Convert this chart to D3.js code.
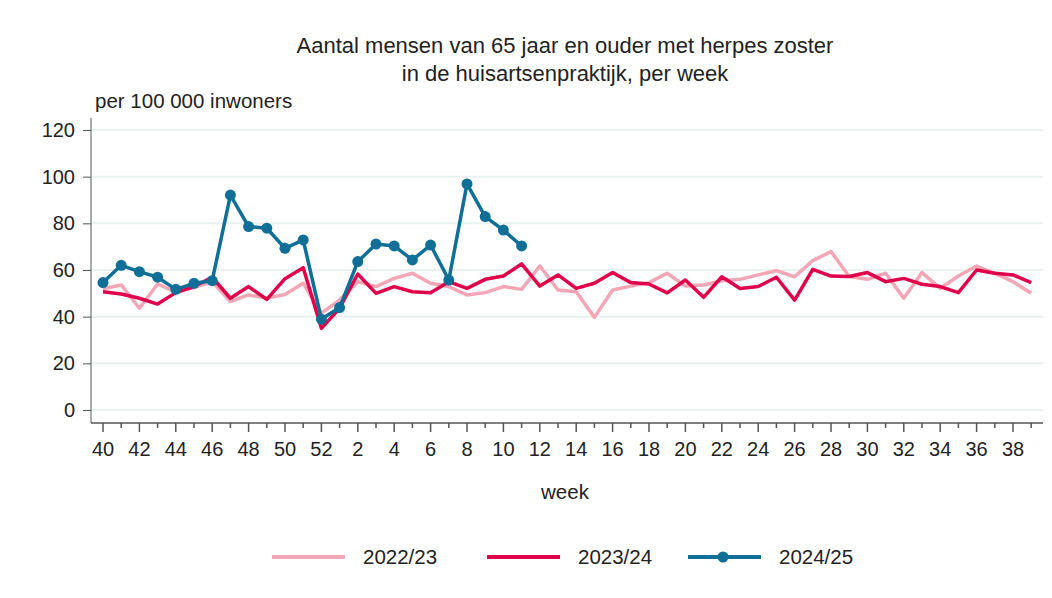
<!DOCTYPE html>
<html>
<head>
<meta charset="utf-8">
<script src="https://cdn.jsdelivr.net/npm/d3@7"></script>
<style>
  body { margin: 0; background: #fff; }
  svg { display: block; font-family: 'Liberation Sans', Arial, sans-serif; }
</style>
</head>
<body>
<svg id="chart"></svg>
<script>
// weeks of the season, week 40 to week 39
const weeks = [40, 41, 42, 43, 44, 45, 46, 47, 48, 49, 50, 51, 52,
  1, 2, 3, 4, 5, 6, 7, 8, 9, 10, 11, 12, 13, 14, 15, 16, 17, 18, 19, 20,
  21, 22, 23, 24, 25, 26, 27, 28, 29, 30, 31, 32, 33, 34, 35, 36, 37, 38, 39]

const season2223 = [52, 53.6, 43.6, 54, 50.5, 52.5, 55, 46.5, 49.3, 48, 49.5, 54.3, 41.5,
  47.1, 55, 52.9, 56.4, 58.6, 54.3, 52.9, 49.3, 50.3, 52.9, 51.7, 61.7, 51.4, 50.7, 39.7, 51.4, 53.1, 54.6, 58.6, 53.1,
  53.6, 55.4, 56, 57.9, 59.7, 57.1, 64, 67.9, 57.2, 56, 58.6, 47.9, 58.9, 52.1, 57.4, 61.7, 58.6, 55, 50]

const season2324 = [50.7, 49.7, 47.9, 45.4, 50.3, 52.9, 56.9, 47.9, 52.9, 47.4, 56.3, 61, 35,
  43.6, 58.3, 50, 52.9, 50.7, 50.3, 55, 52.1, 56, 57.4, 62.6, 53.1, 57.9, 52.1, 54.3, 58.9, 54.6, 54, 50.2, 55.7,
  48.3, 57.1, 52.1, 52.9, 56.9, 47.1, 60.3, 57.4, 57.2, 58.9, 55, 56.4, 53.9, 52.9, 50.3, 60, 58.6, 57.9, 54.6]

const season2425 = [54.6, 62, 59.3, 56.9, 51.7, 54.3, 55.4, 92.1, 78.6, 77.9, 69.3, 72.9, 38.9,
  43.9, 63.6, 71.1, 70.3, 64.3, 70.7, 55.7, 96.9, 82.9, 77.1, 70.3]

const yTicks = [0, 20, 40, 60, 80, 100, 120]
const seasonNames = ['2022/23', '2023/24', '2024/25']

const pink = '#f4a5b6'
const red = '#e1004a'
const blue = '#0f6f96'
const textColor = '#222'
const axisColor = '#555'

const width = 1052
const height = 598

const svg = d3.select('#chart')
  .attr('width', width)
  .attr('height', height)

const x = d3.scaleLinear()
  .domain([0, weeks.length - 1])
  .range([103, 1031.2])

const y = d3.scaleLinear()
  .domain([0, 120])
  .range([410, 130])

// title
svg.append('text')
  .attr('x', 565)
  .attr('y', 53)
  .attr('text-anchor', 'middle')
  .style('font-size', '22px')
  .style('fill', textColor)
  .text('Aantal mensen van 65 jaar en ouder met herpes zoster')
svg.append('text')
  .attr('x', 565)
  .attr('y', 81)
  .attr('text-anchor', 'middle')
  .style('font-size', '22px')
  .style('fill', textColor)
  .text('in de huisartsenpraktijk, per week')

svg.append('text')
  .attr('x', 95)
  .attr('y', 108)
  .style('font-size', '20.5px')
  .style('fill', textColor)
  .text('per 100 000 inwoners')

// horizontal gridlines
svg.append('g')
  .selectAll('line')
  .data(yTicks)
  .enter()
  .append('line')
  .attr('x1', 91)
  .attr('x2', 1043)
  .attr('y1', d => y(d))
  .attr('y2', d => y(d))
  .style('stroke', '#e9f1f1')
  .style('stroke-width', 2)

// y axis
svg.append('g')
  .attr('transform', 'translate(91,0)')
  .style('color', axisColor)
  .style('font-size', '20px')
  .call(d3.axisLeft(y).tickValues(yTicks).tickSize(8).tickSizeOuter(0).tickPadding(8))
  .call(g => g.select('.domain').attr('d', 'M0,118V423'))
  .selectAll('text')
  .style('fill', textColor)
  .style('font-family', "'Liberation Sans', Arial, sans-serif")

// x axis, minor ticks every week
const xAxisG = svg.append('g')
  .attr('transform', 'translate(0,423)')
  .style('color', axisColor)
xAxisG.append('line')
  .attr('x1', 91)
  .attr('x2', 1043)
  .style('stroke', axisColor)
  .style('stroke-width', 1.5)
xAxisG.selectAll('.tick')
  .data(weeks)
  .enter()
  .append('line')
  .attr('x1', (d, i) => x(i))
  .attr('x2', (d, i) => x(i))
  .attr('y1', 0)
  .attr('y2', d => d % 2 === 0 ? 9 : 5)
  .style('stroke', axisColor)
  .style('stroke-width', 1.5)
xAxisG.selectAll('.label')
  .data(weeks)
  .enter()
  .filter(d => d % 2 === 0)
  .append('text')
  .attr('x', d => x(weeks.indexOf(d)))
  .attr('y', 33)
  .attr('text-anchor', 'middle')
  .style('font-size', '20px')
  .style('fill', textColor)
  .text(d => d)

svg.append('text')
  .attr('x', 565)
  .attr('y', 499)
  .attr('text-anchor', 'middle')
  .style('font-size', '20.5px')
  .style('fill', textColor)
  .text('week')

// lines
const line = d3.line()
  .x((d, i) => x(i))
  .y(d => y(d))

const series = [
  { values: season2223, color: pink },
  { values: season2324, color: red },
  { values: season2425, color: blue }
]

series.forEach(s => {
  svg.append('path')
    .datum(s.values)
    .attr('d', line)
    .style('fill', 'none')
    .style('stroke', s.color)
    .style('stroke-width', 3.5)
    .style('stroke-linejoin', 'round')
})

svg.append('g')
  .selectAll('circle')
  .data(season2425)
  .enter()
  .append('circle')
  .attr('cx', (d, i) => x(i))
  .attr('cy', d => y(d))
  .attr('r', 5.5)
  .style('fill', blue)

// legend
const legendX = [272, 487, 688]
const legend = svg.append('g')
  .selectAll('g')
  .data(seasonNames)
  .enter()
  .append('g')
  .attr('transform', (d, i) => `translate(${legendX[i]},557)`)
legend.append('line')
  .attr('x1', 0)
  .attr('x2', 73)
  .style('stroke', (d, i) => series[i].color)
  .style('stroke-width', 4)
legend.filter((d, i) => i === 2)
  .append('circle')
  .attr('cx', 35)
  .attr('r', 5.5)
  .style('fill', blue)
legend.append('text')
  .attr('x', 91)
  .attr('y', 7)
  .style('font-size', '20.5px')
  .style('fill', textColor)
  .text(d => d)
</script>
</body>
</html>
